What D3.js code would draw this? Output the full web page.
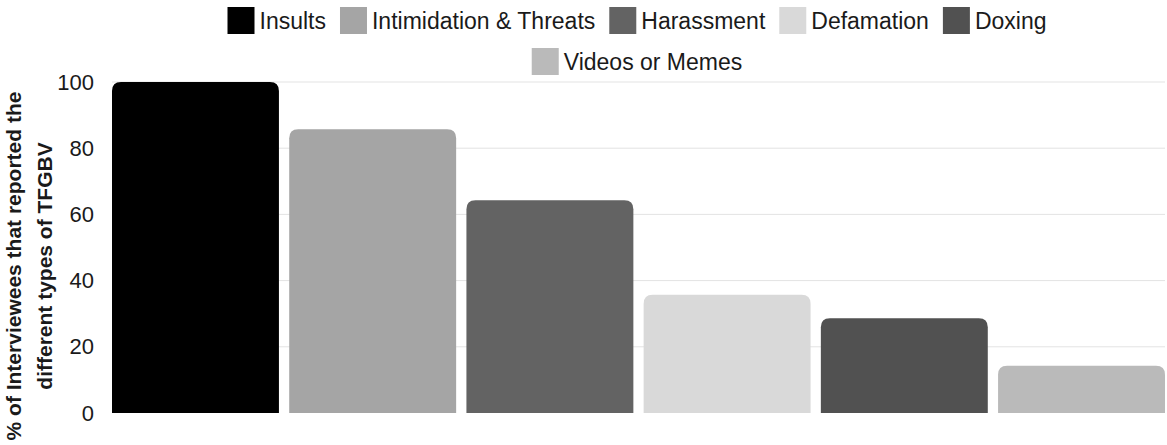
<!DOCTYPE html>
<html>
<head>
<script src="https://d3js.org/d3.v7.min.js"></script>
<style>
  body { margin: 0; background: #fff; }
  svg text { font-family: "Liberation Sans", Arial, sans-serif; }
</style>
</head>
<body>
<div id="chart"></div>
<script>
// data
const categories = ["Insults", "Intimidation & Threats", "Harassment", "Defamation", "Doxing", "Videos or Memes"];
const values = [100, 85.7, 64.3, 35.7, 28.6, 14.3];
const colors = ["#000000", "#a5a5a5", "#636363", "#d9d9d9", "#515151", "#bababa"];
const yTicks = [0, 20, 40, 60, 80, 100];
const yTitle = ["% of Interviewees that reported the", "different types of TFGBV"];

const W = 1167, H = 445;
const svg = d3.select("#chart").append("svg")
    .attr("width", W).attr("height", H);

const x = d3.scaleBand()
    .domain(categories)
    .range([112, 1165])
    .paddingInner(0.058)
    .paddingOuter(0);

const y = d3.scaleLinear()
    .domain([0, 100])
    .range([413, 82]);

// gridlines
svg.append("g")
    .selectAll("line")
    .data(yTicks.filter(d => d > 0))
    .join("line")
    .attr("x1", 112).attr("x2", 1165)
    .attr("y1", d => y(d)).attr("y2", d => y(d))
    .attr("stroke", "#e3e3e3").attr("stroke-width", 1);

// y axis labels
const yAxis = svg.append("g")
    .attr("transform", "translate(94,0)")
    .call(d3.axisLeft(y).tickValues(yTicks).tickSize(0).tickPadding(0));
yAxis.select(".domain").remove();
yAxis.selectAll("text")
    .attr("font-size", 22)
    .attr("fill", "#1a1a1a")
    .attr("font-family", "Liberation Sans, Arial, sans-serif");

// bars with rounded top corners
const r = 9;
function barPath(x0, w, yTop, yBot) {
  return `M${x0},${yBot} L${x0},${yTop + r} Q${x0},${yTop} ${x0 + r},${yTop}` +
         ` L${x0 + w - r},${yTop} Q${x0 + w},${yTop} ${x0 + w},${yTop + r}` +
         ` L${x0 + w},${yBot} Z`;
}
svg.append("g")
    .selectAll("path")
    .data(categories)
    .join("path")
    .attr("d", (c, i) => barPath(x(c), x.bandwidth(), y(values[i]), y(0)))
    .attr("fill", (c, i) => colors[i]);

// y title
const yt = svg.append("text")
    .attr("transform", "translate(0,266) rotate(-90)")
    .attr("text-anchor", "middle")
    .attr("font-size", 21)
    .attr("font-weight", "bold")
    .attr("fill", "#1a1a1a");
yt.selectAll("tspan")
    .data(yTitle)
    .join("tspan")
    .attr("x", 0)
    .attr("y", (d, i) => 21 + i * 31)
    .text(d => d);

// legend
const rows = [categories.slice(0, 5), categories.slice(5)];
const sw = 27, gapText = 5, gapItem = 14, cx = 637;
rows.forEach((row, ri) => {
  const g = svg.append("g");
  const top = 7 + ri * 41;
  let pos = 0;
  row.forEach(c => {
    const i = categories.indexOf(c);
    g.append("rect")
        .attr("x", pos).attr("y", top)
        .attr("width", sw).attr("height", sw)
        .attr("fill", colors[i]);
    const t = g.append("text")
        .attr("x", pos + sw + gapText)
        .attr("y", top + sw / 2)
        .attr("dy", "0.35em")
        .attr("font-size", 23)
        .attr("fill", "#1a1a1a")
        .text(c);
    pos += sw + gapText + t.node().getComputedTextLength() + gapItem;
  });
  const total = pos - gapItem;
  g.attr("transform", `translate(${cx - total / 2},0)`);
});
</script>
</body>
</html>
